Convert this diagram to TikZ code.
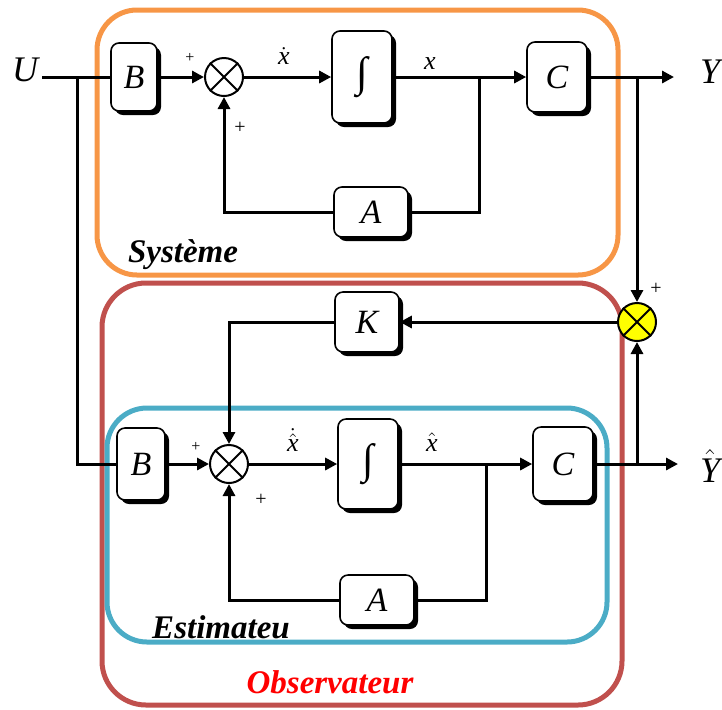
\documentclass[tikz,border=0pt]{standalone}
\usepackage{fontspec}
\setmainfont{Liberation Serif}
\usetikzlibrary{arrows.meta, shadows}
\definecolor{sysorange}{RGB}{247,150,70}
\definecolor{obsred}{RGB}{192,80,77}
\definecolor{estblue}{RGB}{75,172,198}
\definecolor{sumyellow}{RGB}{255,255,0}

\tikzset{
  blk/.style={draw, line width=0.8pt, rounded corners=4pt, fill=white, inner sep=0pt,
    drop shadow={fill=black, opacity=1, shadow xshift=2pt, shadow yshift=-2pt},
    font=\fontsize{17}{19}\selectfont\itshape},
  intg/.style={blk, font=\fontsize{21}{23}\selectfont},
  sumj/.style={draw, line width=1pt, circle, minimum size=19pt, inner sep=0pt, fill=white},
  sig/.style={line width=1.5pt, -{Triangle[length=6pt,width=6pt]}},
  wire/.style={line width=1.5pt},
  frame/.style={line width=2.5pt, rounded corners=20pt},
  lbl/.style={font=\fontsize{18}{20}\selectfont\itshape},
  slbl/.style={font=\fontsize{13}{15}\selectfont\itshape, inner sep=1pt},
  sgn/.style={font=\fontsize{8}{9}\selectfont, inner sep=0pt},
  ttl/.style={font=\fontsize{16.5}{18}\selectfont\bfseries\itshape, inner sep=0pt},
}

\begin{document}
\begin{tikzpicture}[x=0.5pt,y=-0.5pt]
\def\yt{77}
\def\yb{464}
\useasboundingbox (0,0) rectangle (722,709);

%frames
\draw[frame, sysorange] (97,10) rectangle (618,275);
\draw[frame, obsred, rounded corners=22pt] (102,283) rectangle (622,705);
\draw[frame, estblue] (107,408) rectangle (607,642);

%system blocks
\node[blk, minimum width=23pt, minimum height=34pt] (B1) at (134,\yt) {B};
\node[sumj] (S1) at (224,\yt) {};
\node[intg, minimum width=30pt, minimum height=46pt] (I1) at (362,\yt) {∫};
\node[blk, minimum width=30pt, minimum height=35pt] (C1) at (557,\yt) {C};
\node[blk, minimum width=37pt, minimum height=25pt] (A1) at (371,212) {A};

%observer blocks
\node[blk, minimum width=32pt, minimum height=30pt] (K) at (367,322) {K};
\node[sumj, fill=sumyellow] (S2) at (637,322) {};
\node[blk, minimum width=24pt, minimum height=36pt] (B2) at (141,\yb) {B};
\node[sumj] (S3) at (229,\yb) {};
\node[intg, minimum width=30pt, minimum height=45pt] (I2) at (368,\yb) {∫};
\node[blk, minimum width=30pt, minimum height=37pt] (C2) at (563,\yb) {C};
\node[blk, minimum width=37pt, minimum height=25pt] (A2) at (377,600) {A};

%crosses in the summing junctions
\foreach \s in {S1,S2,S3} {
  \draw[line width=1pt] (\s.north west) -- (\s.south east) (\s.north east) -- (\s.south west);
}

%branch points
\coordinate (u0) at (42,\yt);
\coordinate (u1) at (77,\yt);
\coordinate (t1) at (479,\yt);
\coordinate (t2) at (637,\yt);
\coordinate (y1) at (674,\yt);
\coordinate (t3) at (486,\yb);
\coordinate (t4) at (637,\yb);
\coordinate (y2) at (678,\yb);

%system wires
\draw[wire] (u0) -- (B1.west);
\draw[sig] (B1.east) -- (S1.west);
\draw[sig] (S1.east) -- (I1.west);
\draw[sig] (I1.east) -- (C1.west);
\draw[wire] (t1) |- (A1.east);
\draw[sig] (A1.west) -| (S1.south);
\draw[sig] (C1.east) -- (y1);
\draw[sig] (t2) -- (S2.north);

%observer wires
\draw[wire] (u1) |- (B2.west);
\draw[sig] (B2.east) -- (S3.west);
\draw[sig] (S3.east) -- (I2.west);
\draw[sig] (I2.east) -- (C2.west);
\draw[wire] (t3) |- (A2.east);
\draw[sig] (A2.west) -| (S3.south);
\draw[sig] (C2.east) -- (y2);
\draw[sig] (t4) -- (S2.south);
\draw[sig] (S2.west) -- (K.east);
\draw[sig] (K.west) -| (S3.north);

%signal names
\node[lbl] (lU) at (25,70) {U};
\node[lbl] (lY) at (710,72) {Y};
\node[lbl] (lYh) at (710,466) {$\hat{\textit{Y}}$};
\node[slbl] (lxd) at (284,56) {$\dot{\textit{x}}$};
\node[slbl] (lx) at (430,64) {x};
\node[slbl] (lxhd) at (293,440) {$\dot{\hat{\textit{x}}}$};
\node[slbl] (lxh) at (432,442) {$\hat{\textit{x}}$};

%signs
\node[sgn] (p1) at (190,58) {+};
\node[sgn, font=\fontsize{10}{11}\selectfont] (p2) at (240,128) {+};
\node[sgn, font=\fontsize{10}{11}\selectfont] (p3) at (656,289) {+};
\node[sgn] (p4) at (196,447) {+};
\node[sgn, font=\fontsize{10}{11}\selectfont] (p5) at (261,500) {+};

%frame titles
\node[ttl] (tS) at (183,255) {Système};
\node[ttl] (tE) at (221,627) {Estimateu};
\node[ttl, red] (tO) at (330,682) {Observateur};
\end{tikzpicture}
\end{document}
